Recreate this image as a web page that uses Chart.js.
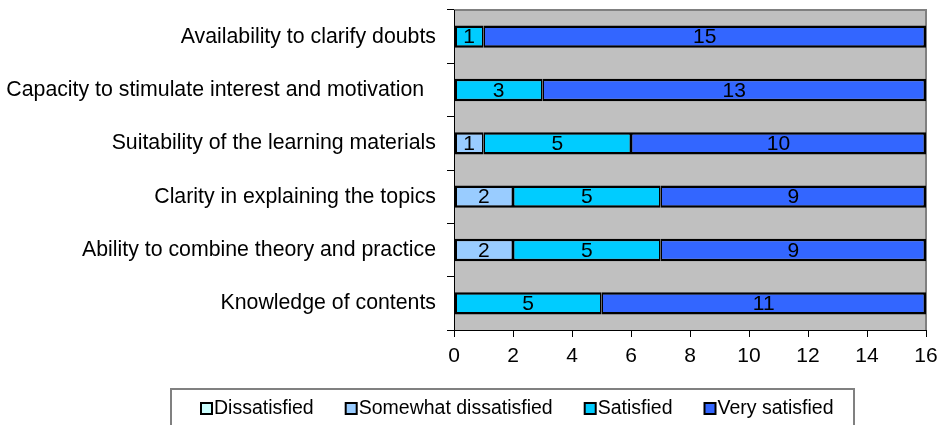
<!DOCTYPE html>
<html>
<head>
<meta charset="utf-8">
<title>Satisfaction with the teacher</title>
<script src="https://cdn.jsdelivr.net/npm/chart.js@4/dist/chart.umd.min.js"></script>
<style>
  html, body { margin: 0; padding: 0; background: #fff; }
  #wrap { width: 941px; height: 425px; position: relative; }
</style>
</head>
<body>
<div id="wrap"><canvas id="chart"></canvas></div>
<script>
// categories, top to bottom as shown
const categories = [
  "Availability to clarify doubts",
  "Capacity to stimulate interest and motivation  ",
  "Suitability of the learning materials",
  "Clarity in explaining the topics",
  "Ability to combine theory and practice",
  "Knowledge of contents"
];
const dissatisfied         = [0, 0, 0, 0, 0, 0];
const somewhatDissatisfied = [0, 0, 1, 2, 2, 0];
const satisfied            = [1, 3, 5, 5, 5, 5];
const verySatisfied        = [15, 13, 10, 9, 9, 11];
const xTicks = [0, 2, 4, 6, 8, 10, 12, 14, 16];

const FONT = "'Liberation Sans', Arial, sans-serif";
Chart.defaults.font.family = FONT;
Chart.defaults.font.size = 21;
Chart.defaults.color = "#000";

// outer edges of a stacked bar get the full border, the seams between segments split it
function edgeWidths(c) {
  if (!c.raw) return 0;
  const sets = c.chart.data.datasets;
  const before = sets.slice(0, c.datasetIndex).some((d) => d.data[c.dataIndex]);
  const after = sets.slice(c.datasetIndex + 1).some((d) => d.data[c.dataIndex]);
  return { top: 2.5, bottom: 2.5, left: before ? 1.5 : 2.5, right: after ? 1.5 : 2.5 };
}

function series(label, data, color) {
  return {
    label,
    data,
    backgroundColor: color,
    borderColor: "#000",
    borderWidth: edgeWidths,
    borderSkipped: false,
    barPercentage: 0.42,
    categoryPercentage: 1
  };
}

// grey plot background with the light frame on top/right
const plotBackground = {
  id: "plotBackground",
  beforeDraw(chart) {
    const { ctx, chartArea: a } = chart;
    ctx.save();
    ctx.fillStyle = "#c0c0c0";
    ctx.fillRect(a.left, a.top, a.right - a.left, a.bottom - a.top);
    ctx.strokeStyle = "#808080";
    ctx.lineWidth = 2;
    ctx.beginPath();
    ctx.moveTo(a.left, a.top);
    ctx.lineTo(a.right, a.top);
    ctx.lineTo(a.right, a.bottom);
    ctx.stroke();
    ctx.restore();
  }
};

// numbers centred in every non-empty segment
const segmentLabels = {
  id: "segmentLabels",
  afterDatasetsDraw(chart) {
    const { ctx } = chart;
    ctx.save();
    ctx.font = "21px " + FONT;
    ctx.fillStyle = "#000";
    ctx.textAlign = "center";
    ctx.textBaseline = "middle";
    chart.data.datasets.forEach((ds, i) => {
      chart.getDatasetMeta(i).data.forEach((bar, j) => {
        const v = ds.data[j];
        if (!v) return;
        ctx.fillText(String(v), (bar.x + bar.base) / 2, bar.y + 1);
      });
    });
    ctx.restore();
  }
};

// boxed legend at the bottom, drawn by hand to get the tight spacing
const boxedLegend = {
  id: "boxedLegend",
  afterDraw(chart) {
    const { ctx } = chart;
    const top = 389, left = 171, right = 854;
    ctx.save();
    ctx.strokeStyle = "#808080";
    ctx.lineWidth = 2;
    ctx.strokeRect(left, top, right - left, 60);
    ctx.font = "19.5px " + FONT;
    ctx.textBaseline = "middle";
    ctx.textAlign = "left";
    let x = 201;
    const cy = 408.5;
    chart.data.datasets.forEach((ds) => {
      ctx.fillStyle = ds.backgroundColor;
      ctx.fillRect(x, cy - 5.5, 11, 11);
      ctx.strokeStyle = "#000";
      ctx.lineWidth = 2;
      ctx.strokeRect(x, cy - 5.5, 11, 11);
      ctx.fillStyle = "#000";
      ctx.fillText(ds.label, x + 13, cy);
      x += 13 + ctx.measureText(ds.label).width + 32;
    });
    ctx.restore();
  }
};

new Chart(document.getElementById("chart"), {
  type: "bar",
  data: {
    labels: categories,
    datasets: [
      series("Dissatisfied", dissatisfied, "#ccffff"),
      series("Somewhat dissatisfied", somewhatDissatisfied, "#99ccff"),
      series("Satisfied", satisfied, "#00ccff"),
      series("Very satisfied", verySatisfied, "#3366ff")
    ]
  },
  options: {
    indexAxis: "y",
    responsive: true,
    maintainAspectRatio: false,
    animation: false,
    layout: { padding: { left: 0, top: 10, right: 15, bottom: 0 } },
    plugins: { legend: { display: false }, tooltip: { enabled: false } },
    scales: {
      x: {
        stacked: true,
        min: 0,
        max: 16,
        afterBuildTicks: (s) => { s.ticks = xTicks.map((value) => ({ value })); },
        afterFit: (s) => { s.height = 95; s.paddingLeft = 0; s.paddingRight = 0; },
        grid: { drawOnChartArea: false, tickLength: 7, color: "#000" },
        border: { color: "#000", width: 1 },
        ticks: { padding: 7, color: "#000" }
      },
      y: {
        stacked: true,
        afterFit: (s) => { s.width = 454; s.paddingTop = 0; s.paddingBottom = 0; },
        grid: { drawOnChartArea: false, tickLength: 7, color: "#000" },
        border: { color: "#000", width: 1 },
        ticks: { padding: 11, color: "#000", autoSkip: false, font: { size: 21.3 } }
      }
    }
  },
  plugins: [plotBackground, segmentLabels, boxedLegend]
});
</script>
</body>
</html>
